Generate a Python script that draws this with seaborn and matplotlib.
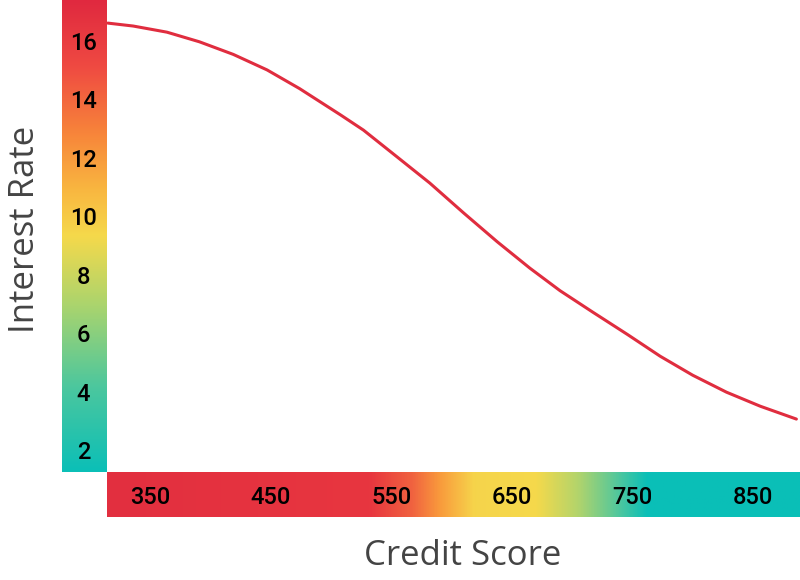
import numpy as np
import pandas as pd
import seaborn as sns
import matplotlib.pyplot as plt
from matplotlib.colors import LinearSegmentedColormap

# curve
credit_score = [315, 336, 364, 391, 419, 447, 474, 508, 527, 555, 582, 610, 638,
                665, 690, 717, 746, 773, 800, 828, 856, 886]
interest_rate = [16.60, 16.50, 16.29, 15.96, 15.53, 15.00, 14.36, 13.46, 12.94, 12.02,
                 11.13, 10.11, 9.12, 8.22, 7.45, 6.72, 5.95, 5.21, 4.56, 3.98, 3.50, 3.06]

y_ticks = [2, 4, 6, 8, 10, 12, 14, 16]
x_ticks = [350, 450, 550, 650, 750, 850]

df = pd.DataFrame({'Credit Score': credit_score, 'Interest Rate': interest_rate})

sns.set_style("white")
plt.rcParams['font.family'] = ['Roboto', 'DejaVu Sans']

xlim = (314.3, 889)
ylim = (1.25, 17.39)

fig = plt.figure(figsize=(8, 5.8), dpi=100)
W, H = 800, 580

def box(x0, y0, x1, y1):
    return [x0 / W, 1 - y1 / H, (x1 - x0) / W, (y1 - y0) / H]

# gradient bars
vcmap = LinearSegmentedColormap.from_list('v', [
    (0.0, '#0bbfb7'), (0.18, '#4cc79e'), (0.35, '#a9d46e'), (0.5, '#f5d94b'),
    (0.6, '#f9b640'), (0.72, '#f7843a'), (0.86, '#ef4a42'), (1.0, '#e0293f')])
hcmap = LinearSegmentedColormap.from_list('h', [
    (0.0, '#e22f40'), (0.38, '#e8363f'), (0.44, '#f06240'), (0.48, '#f99a3c'),
    (0.53, '#f6d44b'), (0.62, '#f5d94b'), (0.68, '#b3d46b'), (0.74, '#4ec79e'),
    (0.78, '#0bbfb7'), (1.0, '#0abfb8')])

grad = np.linspace(0, 1, 256)
axv = fig.add_axes(box(62, 0, 107, 472), zorder=1)
axv.imshow(grad.reshape(-1, 1), cmap=vcmap, aspect='auto', origin='lower', extent=[0, 1, 0, 1])
axv.set_axis_off()

axh = fig.add_axes(box(107, 472, 800, 517), zorder=1)
axh.imshow(grad.reshape(1, -1), cmap=hcmap, aspect='auto', extent=[0, 1, 0, 1])
axh.set_axis_off()

# main axes
ax = fig.add_axes(box(107, 0, 800, 472), zorder=2)
ax.patch.set_alpha(0)
sns.lineplot(data=df, x='Credit Score', y='Interest Rate', color='#e02d3f', linewidth=2.2, ax=ax)
ax.set_xlim(*xlim)
ax.set_ylim(*ylim)
ax.set_xticks(x_ticks)
ax.set_yticks(y_ticks)
ax.set_xticklabels([str(v) for v in x_ticks], fontsize=17, fontweight='medium', color='black')
ax.set_yticklabels([str(v) for v in y_ticks], fontsize=17, fontweight='medium', color='black', ha='center')
ax.tick_params(axis='x', length=0, pad=10)
ax.tick_params(axis='y', length=0, pad=17)
ax.set_xlabel('')
ax.set_ylabel('')
for s in ax.spines.values():
    s.set_visible(False)

fig.text(25 / W, 1 - 229 / H, 'Interest Rate', rotation=90, ha='center', va='center',
         fontsize=25, color='#444444', family=['Open Sans', 'DejaVu Sans'])
fig.text(463 / W, 1 - 556 / H, 'Credit Score', ha='center', va='center',
         fontsize=25, color='#444444', family=['Open Sans', 'DejaVu Sans'])

fig.savefig('out.png', dpi=100)
